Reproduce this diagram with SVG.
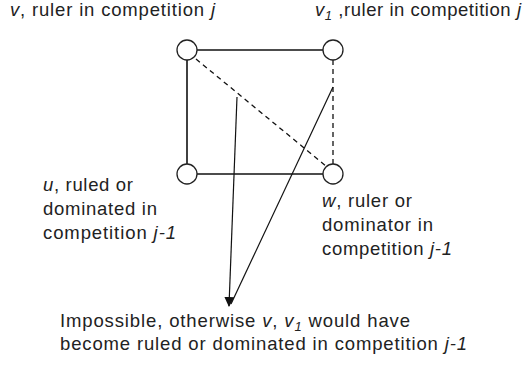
<svg xmlns="http://www.w3.org/2000/svg" width="525" height="378" viewBox="0 0 525 378">
<defs>
<style>
text{font-family:"Liberation Sans",Arial,sans-serif;font-size:18.5px;fill:#222}
.i{font-style:italic}
.n{fill:#fff;stroke:#222;stroke-width:1.3}
.e{stroke:#111;stroke-width:1.6;fill:none}
.d{stroke:#111;stroke-width:1.3;fill:none;stroke-dasharray:5,4}
.a{stroke:#111;stroke-width:1.2;fill:none}
</style>
<marker id="ah" viewBox="0 0 10 10" refX="9" refY="5" markerWidth="10" markerHeight="10" markerUnits="userSpaceOnUse" orient="auto">
<path d="M0,0 L10,5 L0,10 z" fill="#111"/>
</marker>
</defs>
<g id="connectors">
<line class="e" x1="197" y1="50" x2="323" y2="50"/>
<line class="e" x1="187" y1="60" x2="187" y2="164"/>
<line class="e" x1="197" y1="174" x2="323" y2="174"/>
<line class="d" x1="196" y1="59" x2="326" y2="166"/>
<line class="d" x1="333" y1="60" x2="333" y2="164"/>
<line class="a" x1="237" y1="97" x2="229" y2="306" marker-end="url(#ah)"/>
<line class="a" x1="333" y1="87" x2="231" y2="304"/>
</g>
<g id="v"><circle class="n" cx="187" cy="50" r="10"/></g>
<g id="v1"><circle class="n" cx="333" cy="50" r="10"/></g>
<g id="u"><circle class="n" cx="187" cy="174" r="10"/></g>
<g id="w"><circle class="n" cx="333" cy="174" r="10"/></g>
<g id="labels">
<text x="10" y="16" textLength="205" lengthAdjust="spacing"><tspan class="i">v</tspan>, ruler in competition <tspan class="i">j</tspan></text>
<text x="315" y="16" textLength="206" lengthAdjust="spacing"><tspan class="i">v</tspan><tspan class="i" font-size="13" dy="4">1</tspan><tspan dy="-4"> ,ruler in competition </tspan><tspan class="i">j</tspan></text>
<text x="43" y="191" textLength="90" lengthAdjust="spacing"><tspan class="i">u</tspan>, ruled or</text>
<text x="43" y="215" textLength="114" lengthAdjust="spacing">dominated in</text>
<text x="43" y="239" textLength="133" lengthAdjust="spacing">competition <tspan class="i">j-1</tspan></text>
<text x="322" y="207" textLength="90" lengthAdjust="spacing"><tspan class="i">w</tspan>, ruler or</text>
<text x="322" y="231" textLength="111" lengthAdjust="spacing">dominator in</text>
<text x="322" y="255" textLength="130" lengthAdjust="spacing">competition <tspan class="i">j-1</tspan></text>
<text x="60" y="327" textLength="350" lengthAdjust="spacing">Impossible, otherwise <tspan class="i">v</tspan>, <tspan class="i">v</tspan><tspan class="i" font-size="13" dy="4">1</tspan><tspan dy="-4"> would have</tspan></text>
<text x="60" y="350" textLength="407" lengthAdjust="spacing">become ruled or dominated in competition <tspan class="i">j-1</tspan></text>
</g>
</svg>
